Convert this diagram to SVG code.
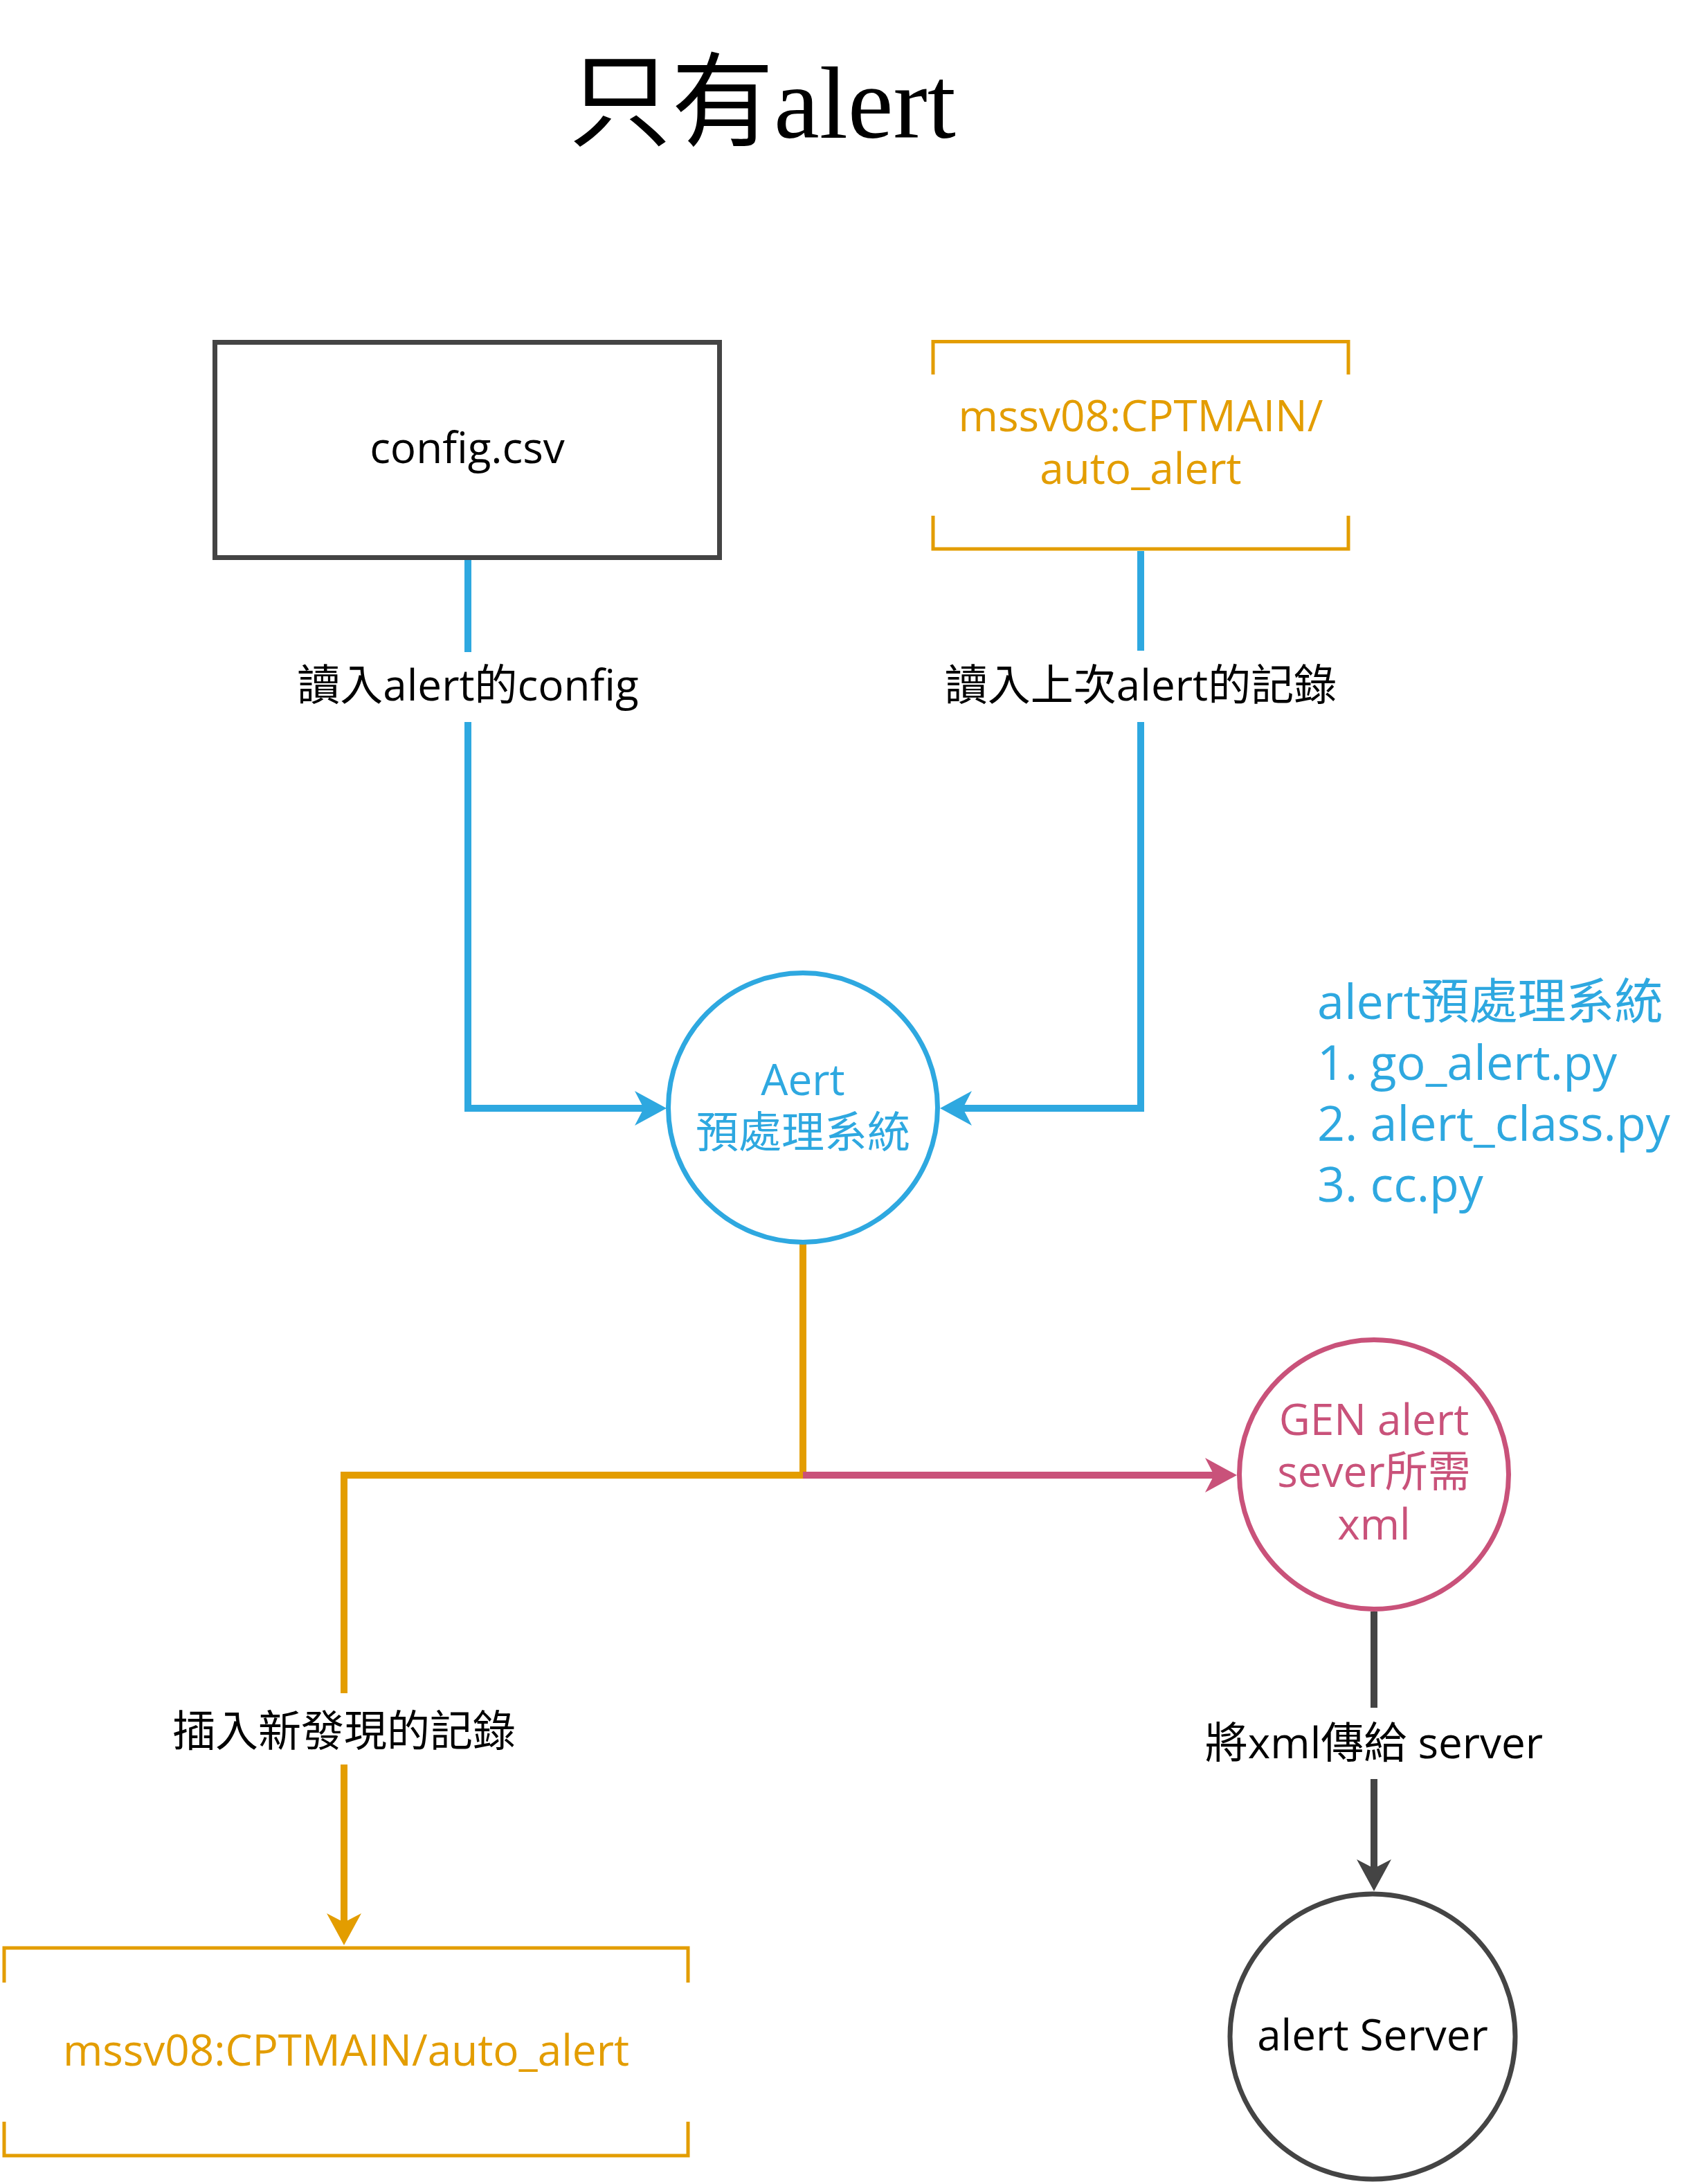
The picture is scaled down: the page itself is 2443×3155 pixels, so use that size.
<svg xmlns="http://www.w3.org/2000/svg" width="2443" height="3155" viewBox="0 0 2443 3155">
<defs>
<style>
.t{font-family:"Open Sans","Noto Sans CJK TC",sans-serif;font-size:62px;text-anchor:middle}
.title{font-family:"Liberation Serif","Noto Sans CJK TC",serif;font-size:148px;fill:#000}
.side{font-family:"Open Sans","Noto Sans CJK TC",sans-serif;font-size:70px;fill:#2EA8E0}
.blue{stroke:#2EA8E0}
.orange{stroke:#E39D00}
.pink{stroke:#C9527A}
.dark{stroke:#444444}
.conn{fill:none;stroke-width:10;stroke-linecap:butt;stroke-linejoin:miter}
.lbl{fill:#000}
.bg{fill:#ffffff}
</style>
<marker id="aBlue" viewBox="0 0 50 50" markerWidth="50" markerHeight="50" markerUnits="userSpaceOnUse" refX="34" refY="25" orient="auto"><path d="M0,0 L46,25 L0,50 L13,25 Z" fill="#2EA8E0"/></marker>
<marker id="aOrange" viewBox="0 0 50 50" markerWidth="50" markerHeight="50" markerUnits="userSpaceOnUse" refX="34" refY="25" orient="auto"><path d="M0,0 L46,25 L0,50 L13,25 Z" fill="#E39D00"/></marker>
<marker id="aPink" viewBox="0 0 50 50" markerWidth="50" markerHeight="50" markerUnits="userSpaceOnUse" refX="34" refY="25" orient="auto"><path d="M0,0 L46,25 L0,50 L13,25 Z" fill="#C9527A"/></marker>
<marker id="aDark" viewBox="0 0 50 50" markerWidth="50" markerHeight="50" markerUnits="userSpaceOnUse" refX="34" refY="25" orient="auto"><path d="M0,0 L46,25 L0,50 L13,25 Z" fill="#444444"/></marker>
</defs>
<rect width="2443" height="3155" fill="#ffffff"/>

<g id="title"><text class="title" x="822" y="199">只有alert</text></g>

<g id="connectors">
<path class="conn blue" d="M676,809 V1601 H951" marker-end="url(#aBlue)"/>
<path class="conn blue" d="M1648,796 V1601 H1370" marker-end="url(#aBlue)"/>
<path class="conn orange" d="M1160,1797 V2131 H497 V2798" marker-end="url(#aOrange)"/>
<path class="conn pink" d="M1160,2131 H1775" marker-end="url(#aPink)"/>
<path class="conn dark" d="M1985,2328 V2720" marker-end="url(#aDark)"/>
<g id="label-read-config"><rect class="bg" x="428" y="942" width="496" height="101"/><text class="t lbl" x="676" y="1012">讀入alert的config</text></g>
<g id="label-read-last"><rect class="bg" x="1366" y="940" width="564" height="103"/><text class="t lbl" x="1648" y="1012">讀入上次alert的記錄</text></g>
<g id="label-insert"><rect class="bg" x="250" y="2446" width="494" height="103"/><text class="t lbl" x="497" y="2523">插入新發現的記錄</text></g>
<g id="label-send"><rect class="bg" x="1746" y="2467" width="480" height="103"/><text class="t lbl" x="1985" y="2540">將xml傳給 server</text></g>
</g>

<g id="config-csv">
<rect x="310.5" y="494.5" width="729" height="311" fill="#ffffff" stroke="#444444" stroke-width="7"/>
<text class="t" x="675" y="669" fill="#000">config.csv</text>
</g>

<g id="store-top">
<path d="M1348,541 V493.5 H1948 V541 M1348,745 V793 H1948 V745" fill="none" stroke="#E39D00" stroke-width="5"/>
<text class="t" x="1648" y="623" fill="#E39D00">mssv08:CPTMAIN/</text>
<text class="t" x="1648" y="699" fill="#E39D00">auto_alert</text>
</g>

<g id="aert">
<circle cx="1160" cy="1600" r="194.5" fill="#ffffff" stroke="#2EA8E0" stroke-width="7"/>
<text class="t" x="1160" y="1582" fill="#2EA8E0">Aert</text>
<text class="t" x="1160" y="1658" fill="#2EA8E0">預處理系統</text>
</g>

<g id="side-note">
<text class="side" x="1903" y="1472">alert預處理系統</text>
<text class="side" x="1903" y="1560">1. go_alert.py</text>
<text class="side" x="1903" y="1648">2. alert_class.py</text>
<text class="side" x="1903" y="1736">3. cc.py</text>
</g>

<g id="gen-xml">
<circle cx="1985" cy="2130" r="194.5" fill="#ffffff" stroke="#C9527A" stroke-width="7"/>
<text class="t" x="1985" y="2073" fill="#C9527A">GEN alert</text>
<text class="t" x="1985" y="2148" fill="#C9527A">sever所需</text>
<text class="t" x="1985" y="2224" fill="#C9527A">xml</text>
</g>

<g id="store-bottom">
<path d="M6,2864 V2814 H994 V2864 M6,3065 V3114 H994 V3065" fill="none" stroke="#E39D00" stroke-width="5"/>
<text class="t" x="500" y="2984" fill="#E39D00">mssv08:CPTMAIN/auto_alert</text>
</g>

<g id="alert-server">
<circle cx="1983" cy="2942" r="206" fill="#ffffff" stroke="#444444" stroke-width="7"/>
<text class="t" x="1983" y="2962" fill="#000">alert Server</text>
</g>
</svg>
